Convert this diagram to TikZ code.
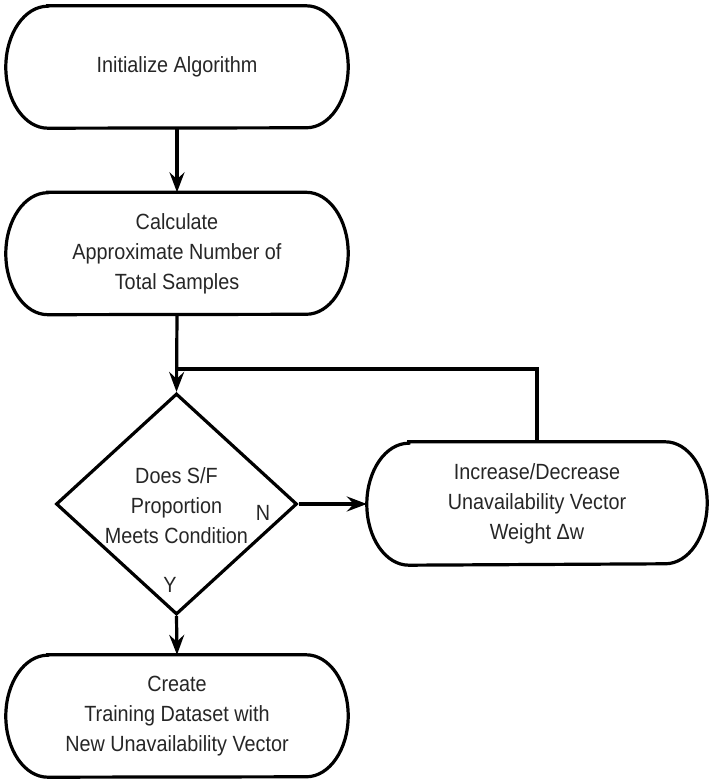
\documentclass[tikz,border=0pt]{standalone}
\usepackage{fontspec}
\setmainfont{Liberation Sans}[FakeStretch=0.9]
\usetikzlibrary{arrows.meta,shapes.geometric}
\begin{document}
\begin{tikzpicture}[x=1pt,y=1pt,
  every node/.style={font=\fontsize{22}{30}\selectfont, align=center, text=black!85},
  stadium/.style={minimum width=342pt, minimum height=122pt, inner sep=0pt},
  decision/.style={diamond, draw, line width=3.2pt, minimum width=241pt,
    minimum height=221pt, inner sep=0pt},
  edge/.style={line width=3.2pt},
  flow/.style={edge, -{Stealth[length=20pt,width=15pt,inset=7pt]}}
]
\useasboundingbox (0,0) rectangle (710,782);

% process boxes
\node[stadium] (b1) at (177,715) {Initialize Algorithm};
\node[stadium] (b2) at (177,528.5) {Calculate\\Approximate Number of\\Total Samples};
\node[stadium, minimum width=340pt, minimum height=123pt] (b3) at (537,278.5)
  {Increase/Decrease\\Unavailability Vector\\Weight Δw};
\node[stadium] (b4) at (177,66) {Create\\Training Dataset with\\New Unavailability Vector};

% stadium outlines with elliptical ends
\foreach \n in {b1,b2,b3,b4}
  \draw[edge]
    ([xshift=42pt]\n.north west) -- ([xshift=-42pt]\n.north east)
    arc[start angle=90, end angle=-90, x radius=42pt, y radius=61pt]
    -- ([xshift=42pt]\n.south west)
    arc[start angle=270, end angle=90, x radius=42pt, y radius=61pt] -- cycle;

% decision
\node[decision] (d) at (176.5,278) {};
\node (dt) at (176.5,276) {Does S/F\\Proportion\\Meets Condition};
\node (n) at (263,269) {N};
\node (y) at (170,197) {Y};

% connectors
\coordinate (j) at (b2.south |- 0,413);
\draw[flow] (b1.south) -- (b2.north);
\draw[flow] (b2.south) -- (d.north);
\draw[edge] (b3.north) |- (j);
\draw[flow] (d.east) -- (d.east -| b3.west);
\draw[flow] (d.south) -- (b4.north);
\end{tikzpicture}
\end{document}
